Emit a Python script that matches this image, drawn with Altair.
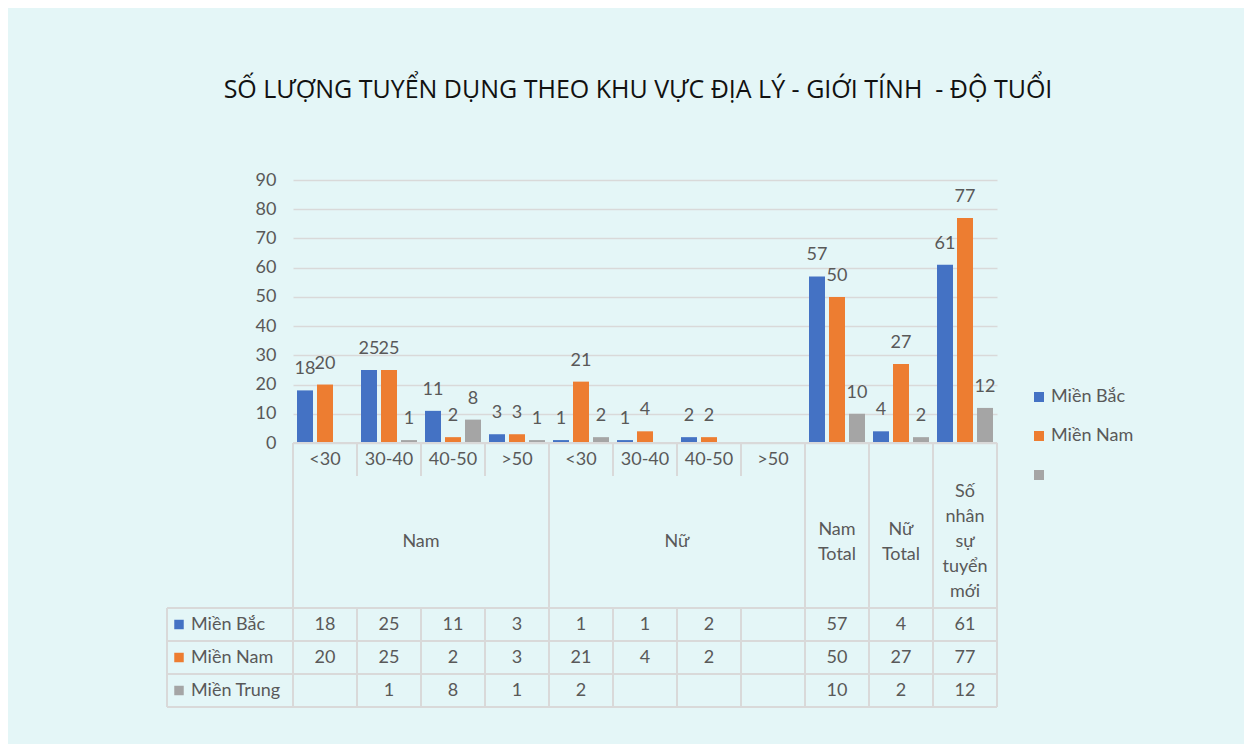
import altair as alt
import pandas as pd

# ---------------- data ----------------
groups = ["Nam", "Nam", "Nam", "Nam", "Nữ", "Nữ", "Nữ", "Nữ",
          "Nam Total", "Nữ Total", "Số nhân sự tuyển mới"]
ages = ["<30", "30-40", "40-50", ">50", "<30", "30-40", "40-50", ">50", "", "", ""]
series = ["Miền Bắc", "Miền Nam", "Miền Trung"]
mien_bac = [18, 25, 11, 3, 1, 1, 2, None, 57, 4, 61]
mien_nam = [20, 25, 2, 3, 21, 4, 2, None, 50, 27, 77]
mien_trung = [None, 1, 8, 1, 2, None, None, None, 10, 2, 12]
colors = ["#4472C4", "#ED7D31", "#A5A5A5"]
y_ticks = [0, 10, 20, 30, 40, 50, 60, 70, 80, 90]
title_text = "SỐ LƯỢNG TUYỂN DỤNG THEO KHU VỰC ĐỊA LÝ - GIỚI TÍNH\u00a0 - ĐỘ TUỔI"

# ---------------- styling ----------------
FONT = "Lato"
FS = 18
TXT = "#595959"
LINE = "#D9D9D9"
BG = "#E4F6F7"
W, H_BAR, H_TAB = 704, 263, 264
LEFT_COL = 126
ROW_PX = H_TAB / 8.0
LINE_H = 25

cats = [f"{g} {a}" if a else g for g, a in zip(groups, ages)]
values = [mien_bac, mien_nam, mien_trung]

rows = []
for si, s in enumerate(series):
    for ci, c in enumerate(cats):
        v = values[si][ci]
        if v is not None:
            rows.append({"cat": c, "series": s, "value": v, "label": str(v), "row": 5.5 + si})
df = pd.DataFrame(rows)

color = alt.Color(
    "series:N",
    scale=alt.Scale(domain=series, range=colors),
    legend=alt.Legend(
        title=None, orient="none", legendX=737, legendY=208,
        labelFont=FONT, labelFontSize=FS, labelColor=TXT,
        symbolType="square", symbolSize=100, symbolStrokeWidth=0,
        rowPadding=21, labelOffset=3,
        labelExpr="datum.label == 'Miền Trung' ? '' : datum.label",
    ),
)


def xband(**kw):
    return alt.X("cat:N", sort=cats,
                 scale=alt.Scale(type="band", domain=cats, paddingInner=0, paddingOuter=0),
                 axis=None, **kw)


xoff = alt.XOffset("series:N", sort=series,
                   scale=alt.Scale(domain=series, paddingInner=0.2, paddingOuter=0.2))
yval = alt.Y("value:Q", scale=alt.Scale(domain=[0, 90], nice=False),
             axis=alt.Axis(values=y_ticks, title=None, domain=False, ticks=False,
                           labelPadding=17, labelFont=FONT, labelFontSize=FS,
                           labelColor=TXT, grid=True, gridColor=LINE, gridWidth=1.5))

bars = alt.Chart(df).mark_bar().encode(x=xband(), xOffset=xoff, y=yval, color=color)
bar_labels = alt.Chart(df).mark_text(
    font=FONT, fontSize=FS, color=TXT, baseline="alphabetic", dy=-16
).encode(x=xband(), xOffset=xoff, y=yval, text="label:N")

top = alt.layer(bars, bar_labels).properties(width=W, height=H_BAR)

# ---------------- table ----------------
yt = alt.Scale(domain=[0, 8], reverse=True, nice=False)

# group spans
spans = []
start = 0
for i in range(1, len(groups) + 1):
    if i == len(groups) or groups[i] != groups[start]:
        spans.append((groups[start], start, i - start))
        start = i

vl = []
for g, st, n in spans:
    vl.append({"cat": cats[st], "y1": 0, "y2": 8})
    for k in range(1, n):
        vl.append({"cat": cats[st + k], "y1": 0, "y2": 1})
        vl.append({"cat": cats[st + k], "y1": 5, "y2": 8})
vl_df = pd.DataFrame(vl)

vrules = alt.Chart(vl_df).mark_rule(color=LINE, strokeWidth=2).encode(
    x=xband(bandPosition=0),
    y=alt.Y("y1:Q", scale=yt, axis=None), y2="y2:Q")
right_edge = alt.Chart(pd.DataFrame({"y1": [0], "y2": [8]})).mark_rule(color=LINE, strokeWidth=2).encode(
    x=alt.value(W), y=alt.Y("y1:Q", scale=yt, axis=None), y2="y2:Q")
left_edge = alt.Chart(pd.DataFrame({"y1": [5], "y2": [8]})).mark_rule(color=LINE, strokeWidth=2).encode(
    x=alt.value(-LEFT_COL), y=alt.Y("y1:Q", scale=yt, axis=None), y2="y2:Q")
hrules = alt.Chart(pd.DataFrame({"y": [5, 6, 7, 8]})).mark_rule(color=LINE, strokeWidth=2).encode(
    x=alt.value(-LEFT_COL), x2=alt.value(W), y=alt.Y("y:Q", scale=yt, axis=None))
top_line = alt.Chart(pd.DataFrame({"y": [0]})).mark_rule(color=LINE, strokeWidth=2).encode(
    x=alt.value(0), x2=alt.value(W), y=alt.Y("y:Q", scale=yt, axis=None))

age_df = pd.DataFrame([{"cat": c, "age": a, "y": 0.5} for c, a in zip(cats, ages) if a])
age_text = alt.Chart(age_df).mark_text(font=FONT, fontSize=FS, color=TXT, baseline="middle").encode(
    x=xband(), y=alt.Y("y:Q", scale=yt, axis=None), text="age:N")

multi_df = pd.DataFrame([{"cat": cats[st + n // 2], "txt": g, "y": 3.0} for g, st, n in spans if n > 1])
single_rows = []
for g, st, n in spans:
    if n == 1:
        words = g.split()
        single_rows.append({"cat": cats[st], "txt": "\n".join(words),
                            "y": 3.0 - (len(words) - 1) / 2 * LINE_H / ROW_PX})
single_df = pd.DataFrame(single_rows)
grp_text = alt.Chart(multi_df).mark_text(font=FONT, fontSize=FS, color=TXT, baseline="middle").encode(
    x=xband(bandPosition=0), y=alt.Y("y:Q", scale=yt, axis=None), text="txt:N")
tot_text = alt.Chart(single_df).mark_text(font=FONT, fontSize=FS, color=TXT, baseline="middle",
                                          lineBreak="\n", lineHeight=LINE_H).encode(
    x=xband(), y=alt.Y("y:Q", scale=yt, axis=None), text="txt:N")

val_text = alt.Chart(df).mark_text(font=FONT, fontSize=FS, color=TXT, baseline="middle").encode(
    x=xband(), y=alt.Y("row:Q", scale=yt, axis=None), text="label:N")

ser_df = pd.DataFrame({"series": series, "row": [5.5, 6.5, 7.5]})
ser_text = alt.Chart(ser_df).mark_text(font=FONT, fontSize=FS, color=TXT, baseline="middle", align="left").encode(
    x=alt.value(-LEFT_COL + 24), y=alt.Y("row:Q", scale=yt, axis=None), text="series:N")
ser_sq = alt.Chart(ser_df).mark_point(shape="square", filled=True, size=90, opacity=1).encode(
    x=alt.value(-LEFT_COL + 12), y=alt.Y("row:Q", scale=yt, axis=None), color=color)

table = alt.layer(hrules, top_line, vrules, right_edge, left_edge, age_text, grp_text, tot_text,
                  val_text, ser_sq, ser_text).properties(width=W, height=H_TAB)

chart = alt.vconcat(top, table, spacing=0, bounds="flush").resolve_scale(
    x="independent", y="independent"
).properties(
    title=alt.Title(title_text, font="Open Sans", fontSize=25, fontWeight="normal",
                    color="#111111", anchor="middle", offset=68, dx=-12),
    background=BG,
    padding={"left": 158, "top": 70, "right": 110, "bottom": 36},
).configure_view(stroke=None)

chart.save("out.html", embed_options={"renderer": "svg", "actions": False})
